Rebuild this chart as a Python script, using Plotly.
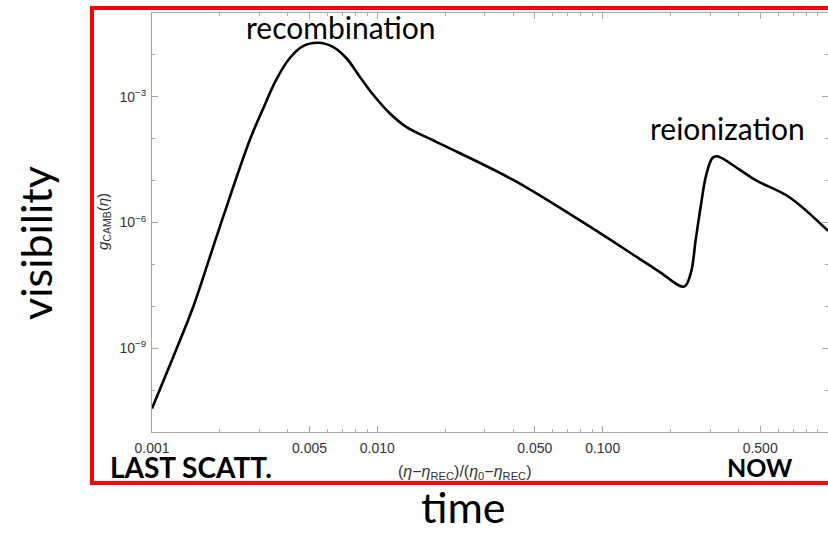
import plotly.graph_objects as go

# Conformal-time ratio (eta - eta_rec)/(eta_0 - eta_rec) and CAMB visibility function g(eta)
eta_ratio = [0.001, 0.001242, 0.001524, 0.001807, 0.00207, 0.002716,
             0.003112, 0.003565, 0.004083, 0.004677, 0.005458, 0.006353, 0.007295,
             0.008356, 0.00955, 0.01132, 0.01343, 0.01706, 0.02023, 0.0399, 0.0787,
             0.1452, 0.1782, 0.2296, 0.246, 0.2588, 0.2723, 0.2871, 0.3069, 0.3228,
             0.4036, 0.4775, 0.6714, 1.0]
g_camb = [3.63e-11, 6.17e-10, 9.77e-9, 1.51e-7, 1.38e-6, 9.33e-5,
          5.2e-4, 2.6e-3, 8.32e-3, 1.62e-2, 1.95e-2, 1.55e-2, 8.32e-3,
          3.02e-3, 1.15e-3, 4.1e-4, 1.91e-4, 1.0e-4, 6.46e-5, 1.05e-5, 1.15e-6,
          1.38e-7, 6.76e-8, 2.95e-8, 6.17e-8, 3.89e-7, 2.40e-6, 1.26e-5, 3.47e-5, 3.80e-5,
          1.85e-5, 1.02e-5, 4.07e-6, 6.3e-7]

x_tickvals = [0.001, 0.005, 0.01, 0.05, 0.1, 0.5, 1]
x_ticktext = ["0.001", "0.005", "0.010", "0.050", "0.100", "0.500", "1"]
x_minor = [m * d for d in (0.001, 0.01, 0.1) for m in range(2, 10) if m != 5]
y_tickvals = [1e-9, 1e-6, 1e-3]
y_ticktext = ["10<sup>\u22129</sup>", "10<sup>\u22126</sup>", "10<sup>\u22123</sup>"]
y_minor = [10.0 ** k for k in range(-11, 0) if k not in (-9, -6, -3)]

W, H = 828, 534
L, R, T, B = 152, 0, 13, 102
PW, PH = W - L - R, H - T - B


def px(x):
    return (x - L) / PW


def py(y):
    return (H - B - y) / PH


fig = go.Figure()
fig.add_trace(go.Scatter(
    x=eta_ratio, y=g_camb, mode="lines",
    line=dict(color="black", width=2.6, shape="spline", smoothing=1.0),
    showlegend=False, hoverinfo="skip",
))

frame = "#a6a6a6"
tickfont = dict(family="Liberation Sans, Arial, sans-serif", size=14, color="#333333")

fig.update_xaxes(
    type="log", range=[-3, 0], showgrid=False, zeroline=False,
    showline=True, linecolor=frame, linewidth=1, mirror="allticks",
    ticks="inside", ticklen=6, tickcolor=frame, tickwidth=1,
    tickmode="array", tickvals=x_tickvals, ticktext=x_ticktext,
    tickfont=tickfont, ticklabelstandoff=3,
    minor=dict(ticks="inside", ticklen=3, tickcolor=frame, tickvals=x_minor, showgrid=False),
)
fig.update_yaxes(
    type="log", range=[-11, -1], showgrid=False, zeroline=False,
    showline=True, linecolor=frame, linewidth=1, mirror="allticks",
    ticks="inside", ticklen=6, tickcolor=frame, tickwidth=1,
    tickmode="array", tickvals=y_tickvals, ticktext=y_ticktext,
    tickfont=tickfont, ticklabelstandoff=2,
    minor=dict(ticks="inside", ticklen=3, tickcolor=frame, tickvals=y_minor, showgrid=False),
)

label_font = "Lato, Open Sans, sans-serif"
math_font = "Liberation Sans, Arial, sans-serif"
annotations = [
    dict(text="recombination", x=px(341), y=py(27), font=dict(family=label_font, size=30, color="black")),
    dict(text="reionization", x=px(727), y=py(128), font=dict(family=label_font, size=30, color="black")),
    dict(text="<b>LAST SCATT.</b>", x=px(191), y=py(467), font=dict(family=label_font, size=28, color="black")),
    dict(text="<b>NOW</b>", x=px(760), y=py(467), font=dict(family=label_font, size=25, color="black")),
    dict(text="visibility", x=px(35), y=py(243), textangle=-90,
         font=dict(family=label_font, size=43, color="black")),
    dict(text="time", x=px(463), y=py(534), yanchor="bottom",
         font=dict(family=label_font, size=43, color="black")),
    dict(text="<i>g</i><sub>CAMB</sub>(<i>\u03b7</i>)", x=px(103), y=py(222), textangle=-90,
         font=dict(family=math_font, size=15, color="#333333")),
    dict(text="(<i>\u03b7</i>\u2212<i>\u03b7</i><sub>REC</sub>)/(<i>\u03b7</i><sub>0</sub>\u2212<i>\u03b7</i><sub>REC</sub>)",
         x=px(465), y=py(473),
         font=dict(family=math_font, size=16, color="#333333")),
]
for a in annotations:
    a.setdefault("yanchor", "middle")
    a.update(xref="paper", yref="paper", showarrow=False, xanchor="center")

fig.update_layout(
    width=W, height=H,
    margin=dict(l=L, r=R, t=T, b=B, pad=0),
    paper_bgcolor="white", plot_bgcolor="white",
    annotations=annotations,
    shapes=[dict(type="rect", xref="paper", yref="paper",
                 x0=px(92), x1=px(845), y0=py(483), y1=py(8),
                 line=dict(color="#ff0000", width=4), fillcolor="rgba(0,0,0,0)", layer="above")],
)

fig.write_html("out.html")
